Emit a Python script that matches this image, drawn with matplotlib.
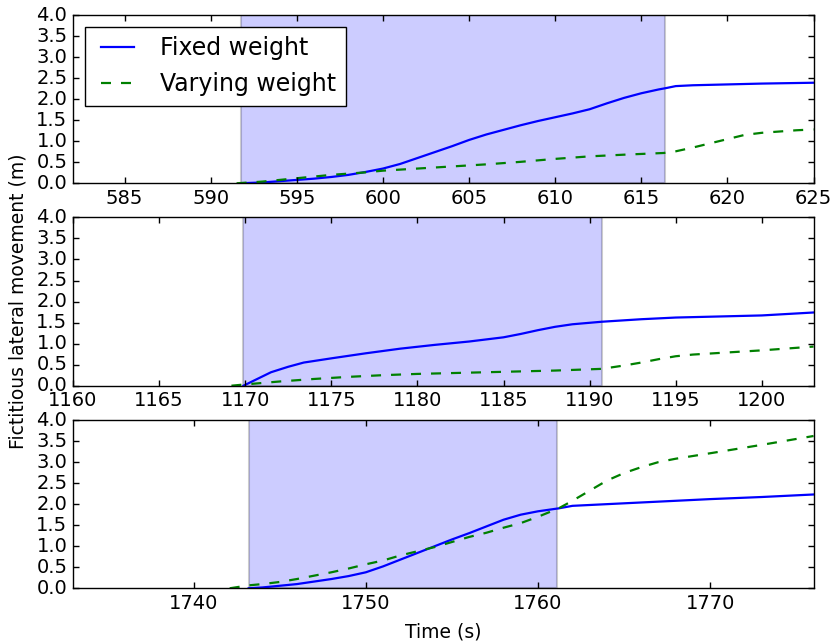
import matplotlib
matplotlib.use("Agg")
import matplotlib.pyplot as plt

plt.style.use("classic")
plt.rcParams["axes.formatter.useoffset"] = False

# --- Panel 1 ---
t1_fixed = [591.7, 593, 594, 595, 596, 597, 598, 599, 600, 601, 602, 603, 604, 605,
            606, 607, 608, 609, 610, 611, 612, 613, 614, 615, 616, 616.4, 617, 618,
            620, 622, 625]
y1_fixed = [0.0, 0.02, 0.05, 0.08, 0.11, 0.15, 0.2, 0.27, 0.35, 0.46, 0.6, 0.74, 0.88,
            1.03, 1.16, 1.27, 1.38, 1.48, 1.57, 1.66, 1.76, 1.9, 2.03, 2.14, 2.23, 2.26,
            2.31, 2.33, 2.35, 2.37, 2.39]
t1_vary = [591.5, 593, 594, 595, 596, 597, 598, 599, 600, 602, 604, 606, 608, 610, 612,
           614, 616.3, 617, 618, 619, 620, 621, 622, 623, 624, 625]
y1_vary = [0.0, 0.04, 0.08, 0.12, 0.16, 0.2, 0.23, 0.26, 0.3, 0.35, 0.4, 0.45, 0.51,
           0.58, 0.64, 0.68, 0.72, 0.76, 0.85, 0.95, 1.05, 1.15, 1.2, 1.23, 1.26, 1.28]
span1 = (591.75, 616.4)
xlim1 = (582, 625)

# --- Panel 2 ---
t2_fixed = [1169.9, 1170.5, 1171.5, 1172.5, 1173.4, 1175, 1177, 1179, 1181, 1183, 1185,
            1186, 1187, 1188, 1189, 1190.7, 1193, 1195, 1198, 1200, 1203]
y2_fixed = [0.0, 0.12, 0.32, 0.45, 0.55, 0.65, 0.77, 0.88, 0.97, 1.05, 1.15, 1.23, 1.32,
            1.4, 1.46, 1.52, 1.58, 1.62, 1.65, 1.67, 1.74]
t2_vary = [1169.2, 1170, 1172, 1174, 1176, 1178, 1180, 1182, 1184, 1186, 1188, 1190.7,
           1192, 1193, 1194, 1195, 1196, 1198, 1200, 1202, 1203]
y2_vary = [0.0, 0.03, 0.1, 0.16, 0.21, 0.25, 0.28, 0.3, 0.32, 0.34, 0.36, 0.4, 0.48,
           0.55, 0.63, 0.7, 0.74, 0.79, 0.84, 0.9, 0.93]
span2 = (1169.85, 1190.74)
xlim2 = (1160, 1203)

# --- Panel 3 ---
t3_fixed = [1743.2, 1744, 1745, 1746, 1747, 1748, 1749, 1750, 1751, 1752, 1753, 1754,
            1755, 1756, 1757, 1758, 1759, 1760, 1761.2, 1762, 1763, 1765, 1770, 1773, 1776]
y3_fixed = [0.0, 0.02, 0.06, 0.1, 0.16, 0.22, 0.29, 0.38, 0.52, 0.68, 0.84, 1.0, 1.16,
            1.31, 1.47, 1.63, 1.75, 1.83, 1.9, 1.96, 1.98, 2.02, 2.12, 2.17, 2.23]
t3_vary = [1742.1, 1743.2, 1744, 1745, 1746, 1747, 1748, 1749, 1750, 1751, 1752, 1753,
           1754, 1755, 1756, 1757, 1758, 1759, 1760, 1761.2, 1762, 1763, 1764, 1765,
           1766, 1767, 1768, 1770, 1773, 1776]
y3_vary = [0.0, 0.07, 0.1, 0.15, 0.22, 0.3, 0.38, 0.47, 0.57, 0.66, 0.78, 0.88, 0.98,
           1.1, 1.22, 1.32, 1.44, 1.55, 1.7, 1.9, 2.08, 2.32, 2.56, 2.74, 2.88, 3.0, 3.08,
           3.21, 3.41, 3.62]
span3 = (1743.2, 1761.13)
xlim3 = (1733, 1776)

yticks = [0.0, 0.5, 1.0, 1.5, 2.0, 2.5, 3.0, 3.5, 4.0]

panels = [
    (t1_fixed, y1_fixed, t1_vary, y1_vary, span1, xlim1, range(585, 626, 5)),
    (t2_fixed, y2_fixed, t2_vary, y2_vary, span2, xlim2, range(1160, 1204, 5)),
    (t3_fixed, y3_fixed, t3_vary, y3_vary, span3, xlim3, range(1740, 1776, 10)),
]

fig = plt.figure(figsize=(8.35, 6.44), dpi=100, facecolor="white")
left, width = 0.0874, 0.8869
bottoms = [0.7154, 0.4011, 0.0865]
height = 0.2613

axes = []
for (tf, yf, tv, yv, span, xlim, xt), b in zip(panels, bottoms):
    ax = fig.add_axes([left, b, width, height])
    ax.axvspan(span[0], span[1], facecolor="b", edgecolor="k", alpha=0.2, linewidth=1.5)
    ax.plot(tf, yf, "b-", linewidth=1.6, label="Fixed weight")
    ax.plot(tv, yv, "g--", linewidth=1.6, dashes=(7.2, 7.2), label="Varying weight")
    ax.set_xlim(*xlim)
    ax.set_ylim(0, 4)
    ax.set_xticks(list(xt))
    ax.set_yticks(yticks)
    ax.set_yticklabels([f"{v:.1f}" for v in yticks])
    ax.tick_params(labelsize=14, length=4.5, width=1)
    axes.append(ax)

axes[0].legend(loc="upper left", fontsize=17, handlelength=2.0, borderaxespad=0.5)

fig.text(0.022, 0.532, "Fictitious lateral movement (m)", rotation=90,
         ha="center", va="center", fontsize=13.5)
fig.text(0.5307, 0.019, "Time (s)", ha="center", va="center", fontsize=13.5)

fig.savefig("out.png", dpi=100, facecolor="white")
